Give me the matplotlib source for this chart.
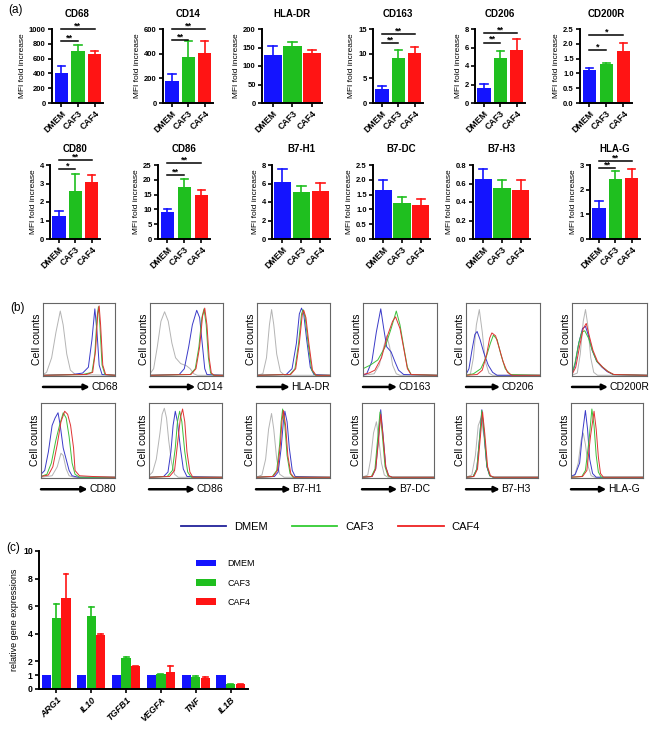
import numpy as np
import matplotlib
matplotlib.use("Agg")
import matplotlib.pyplot as plt
from matplotlib.lines import Line2D

plt.rcParams['font.family'] = ['Liberation Sans', 'DejaVu Sans']

W, H = 650, 734

GROUPS = ["DMEM", "CAF3", "CAF4"]
BAR_COLORS = ["#1414ff", "#1fbf1f", "#ff1414"]
HIST_COLORS = {"iso": "#b4b4b4", "DMEM": "#3a3ac8", "CAF3": "#3cc03c", "CAF4": "#e03232"}
LEGEND_COLORS = ["#22229a", "#33cc33", "#ee2222"]

# ---- panel (a): MFI fold increase ----
ROW1 = ["CD68", "CD14", "HLA-DR", "CD163", "CD206", "CD200R"]
ROW2 = ["CD80", "CD86", "B7-H1", "B7-DC", "B7-H3", "HLA-G"]

MFI_MEAN = {
    "CD68": [405, 700, 660], "CD14": [179, 377, 402], "HLA-DR": [130, 155, 134],
    "CD163": [2.8, 9.2, 10.1], "CD206": [1.61, 4.88, 5.69], "CD200R": [1.12, 1.33, 1.74],
    "CD80": [1.23, 2.6, 3.08], "CD86": [9.0, 17.5, 14.9], "B7-H1": [6.16, 5.04, 5.19],
    "B7-DC": [1.66, 1.22, 1.16], "B7-H3": [0.65, 0.55, 0.53], "HLA-G": [1.27, 2.42, 2.49],
}
MFI_TOP = {
    "CD68": [505, 785, 700], "CD14": [234, 501, 506], "HLA-DR": [155, 164, 142],
    "CD163": [3.4, 10.8, 11.4], "CD206": [2.05, 5.65, 6.9], "CD200R": [1.18, 1.36, 2.02],
    "CD80": [1.52, 3.54, 3.45], "CD86": [10.1, 20.3, 16.4], "B7-H1": [7.53, 5.77, 6.02],
    "B7-DC": [1.99, 1.43, 1.35], "B7-H3": [0.76, 0.64, 0.64], "HLA-G": [1.54, 2.76, 2.85],
}
MFI_YTICKS = {
    "CD68": [0, 200, 400, 600, 800, 1000], "CD14": [0, 200, 400, 600],
    "HLA-DR": [0, 50, 100, 150, 200], "CD163": [0, 5, 10, 15], "CD206": [0, 2, 4, 6, 8],
    "CD200R": [0, 0.5, 1.0, 1.5, 2.0, 2.5], "CD80": [0, 1, 2, 3, 4],
    "CD86": [0, 5, 10, 15, 20, 25], "B7-H1": [0, 2, 4, 6, 8],
    "B7-DC": [0, 0.5, 1.0, 1.5, 2.0, 2.5], "B7-H3": [0, 0.2, 0.4, 0.6, 0.8], "HLA-G": [0, 1, 2, 3],
}
MFI_YFMT = {"CD200R": "{:.1f}", "B7-DC": "{:.1f}", "B7-H3": "{:.1f}"}
# (compared group index, line height, stars)
MFI_SIG = {
    "CD68": [(1, 840, "**"), (2, 1000, "**")], "CD14": [(1, 509, "**"), (2, 600, "**")],
    "CD163": [(1, 12.1, "**"), (2, 14.0, "**")], "CD206": [(1, 6.53, "**"), (2, 7.56, "**")],
    "CD200R": [(1, 1.78, "*"), (2, 2.3, "*")], "CD80": [(1, 3.76, "*"), (2, 4.26, "**")],
    "CD86": [(1, 21.6, "**"), (2, 25.8, "**")], "HLA-G": [(1, 2.89, "**"), (2, 3.16, "**")],
}

# ---- panel (b): flow histograms, (x %, y %) nodes ----
HIST_CD68 = {
    "iso": [(0, 2), (5, 5), (12, 25), (18, 60), (24, 89), (28, 70), (33, 30), (38, 8), (45, 2), (100, 1)],
    "DMEM": [(0, 1), (40, 2), (55, 4), (63, 12), (68, 50), (72, 92), (75, 60), (78, 15), (82, 2), (100, 1)],
    "CAF3": [(0, 1), (55, 2), (68, 5), (72, 30), (75, 80), (77, 95), (79, 70), (82, 15), (86, 2), (100, 1)],
    "CAF4": [(0, 1), (60, 2), (69, 5), (73, 35), (76, 85), (78, 96), (80, 70), (83, 15), (87, 2), (100, 1)],
}
HIST_CD14 = {
    "iso": [(0, 3), (5, 10), (10, 40), (15, 75), (20, 88), (25, 75), (30, 45), (35, 25), (42, 17), (50, 14), (55, 10), (60, 3), (65, 1), (100, 1)],
    "DMEM": [(0, 1), (40, 2), (47, 10), (53, 40), (58, 70), (64, 90), (68, 80), (72, 40), (75, 10), (78, 2), (100, 1)],
    "CAF3": [(0, 1), (55, 2), (62, 10), (67, 40), (71, 80), (74, 92), (77, 70), (80, 25), (83, 4), (87, 1), (100, 1)],
    "CAF4": [(0, 1), (56, 2), (63, 10), (68, 40), (72, 82), (75, 93), (78, 70), (81, 25), (84, 4), (88, 1), (100, 1)],
}
HIST_HLADR = {
    "iso": [(0, 1), (8, 3), (13, 25), (17, 70), (20, 91), (23, 70), (27, 30), (32, 6), (38, 1), (100, 1)],
    "DMEM": [(0, 1), (40, 2), (48, 10), (54, 45), (58, 85), (61, 93), (64, 85), (68, 50), (73, 12), (78, 2), (100, 1)],
    "CAF3": [(0, 1), (45, 2), (52, 10), (57, 45), (61, 85), (63, 91), (66, 80), (70, 45), (75, 8), (80, 1), (100, 1)],
    "CAF4": [(0, 1), (46, 2), (53, 10), (58, 45), (62, 84), (64, 90), (67, 80), (71, 45), (76, 8), (81, 1), (100, 1)],
}
HIST_CD163 = {
    "iso": [(0, 1), (15, 3), (22, 15), (28, 40), (32, 55), (36, 40), (40, 15), (45, 3), (50, 1), (100, 1)],
    "DMEM": [(0, 1), (5, 3), (12, 20), (18, 60), (24, 92), (28, 65), (32, 40), (38, 33), (43, 20), (48, 8), (55, 2), (100, 1)],
    "CAF3": [(0, 10), (10, 15), (20, 22), (30, 40), (38, 65), (45, 89), (50, 70), (55, 40), (60, 12), (65, 2), (100, 1)],
    "CAF4": [(0, 2), (8, 4), (16, 8), (25, 25), (33, 55), (40, 75), (44, 81), (50, 65), (55, 38), (60, 10), (65, 2), (100, 1)],
}
HIST_CD206 = {
    "iso": [(0, 1), (6, 3), (10, 25), (14, 70), (18, 91), (22, 60), (26, 20), (31, 4), (36, 1), (100, 1)],
    "DMEM": [(0, 2), (4, 10), (8, 35), (12, 57), (15, 61), (19, 50), (24, 32), (30, 15), (36, 5), (42, 1), (100, 1)],
    "CAF3": [(0, 1), (10, 3), (20, 10), (27, 25), (33, 45), (37, 56), (42, 50), (47, 30), (53, 10), (60, 2), (100, 1)],
    "CAF4": [(0, 1), (15, 2), (22, 8), (28, 30), (32, 52), (35, 59), (40, 55), (45, 38), (50, 20), (56, 5), (62, 1), (100, 1)],
}
HIST_CD200R = {
    "iso": [(0, 1), (7, 4), (11, 30), (15, 75), (18, 91), (21, 70), (25, 25), (29, 5), (34, 1), (100, 1)],
    "DMEM": [(0, 3), (4, 15), (9, 45), (14, 65), (18, 68), (22, 55), (27, 35), (33, 20), (40, 12), (47, 6), (55, 2), (100, 1)],
    "CAF3": [(0, 3), (4, 18), (9, 45), (13, 60), (17, 62), (22, 52), (27, 35), (33, 20), (40, 13), (47, 7), (55, 2), (100, 1)],
    "CAF4": [(0, 2), (5, 12), (10, 40), (15, 65), (19, 72), (23, 55), (28, 35), (34, 20), (41, 12), (48, 6), (56, 2), (100, 1)],
}
HIST_CD80 = {
    "iso": [(0, 1), (15, 3), (22, 15), (27, 33), (30, 30), (34, 12), (38, 3), (45, 1), (100, 1)],
    "DMEM": [(0, 5), (5, 10), (10, 35), (15, 70), (19, 80), (23, 87), (26, 70), (30, 40), (34, 25), (38, 10), (42, 3), (50, 1), (100, 1)],
    "CAF3": [(0, 2), (8, 5), (14, 20), (20, 50), (25, 70), (30, 87), (34, 80), (38, 55), (42, 20), (46, 5), (52, 1), (100, 1)],
    "CAF4": [(0, 2), (10, 4), (16, 15), (22, 45), (27, 75), (32, 89), (36, 85), (40, 70), (44, 40), (46, 10), (52, 3), (70, 2), (100, 1)],
}
HIST_CD86 = {
    "iso": [(0, 3), (5, 8), (10, 25), (15, 60), (18, 85), (21, 93), (24, 80), (27, 50), (31, 20), (35, 5), (40, 1), (100, 1)],
    "DMEM": [(0, 1), (20, 2), (26, 8), (30, 35), (33, 70), (36, 89), (39, 75), (43, 40), (47, 12), (52, 2), (100, 1)],
    "CAF3": [(0, 1), (25, 2), (32, 10), (36, 40), (39, 75), (42, 89), (45, 75), (49, 35), (53, 8), (58, 1), (100, 1)],
    "CAF4": [(0, 1), (28, 2), (35, 10), (39, 45), (43, 80), (46, 92), (49, 75), (52, 35), (56, 8), (60, 1), (100, 1)],
}
HIST_B7H1 = {
    "iso": [(0, 1), (8, 4), (13, 25), (17, 65), (21, 86), (24, 65), (28, 25), (32, 5), (38, 1), (100, 1)],
    "DMEM": [(0, 1), (25, 2), (30, 8), (34, 40), (37, 75), (39, 89), (42, 75), (45, 40), (49, 10), (53, 2), (100, 1)],
    "CAF3": [(0, 1), (22, 2), (28, 10), (32, 45), (34, 75), (36, 92), (39, 70), (42, 30), (46, 6), (50, 1), (100, 1)],
    "CAF4": [(0, 1), (23, 2), (29, 10), (33, 45), (35, 75), (37, 90), (40, 70), (43, 30), (47, 6), (51, 1), (100, 1)],
}
HIST_B7DC = {
    "iso": [(0, 1), (8, 4), (12, 25), (16, 60), (20, 75), (23, 55), (27, 20), (31, 4), (36, 1), (100, 1)],
    "DMEM": [(0, 1), (14, 2), (19, 12), (23, 55), (26, 91), (29, 60), (33, 15), (37, 3), (42, 1), (100, 1)],
    "CAF3": [(0, 1), (13, 2), (18, 12), (22, 55), (25, 88), (28, 60), (32, 15), (36, 3), (41, 1), (100, 1)],
    "CAF4": [(0, 1), (14, 2), (19, 12), (23, 50), (26, 85), (29, 58), (33, 15), (37, 3), (42, 1), (100, 1)],
}
HIST_B7H3 = {
    "iso": [(0, 1), (8, 4), (13, 30), (17, 70), (21, 80), (25, 55), (29, 15), (33, 3), (38, 1), (100, 1)],
    "DMEM": [(0, 1), (10, 2), (15, 12), (19, 55), (22, 91), (25, 60), (29, 15), (33, 3), (38, 1), (100, 1)],
    "CAF3": [(0, 1), (10, 2), (15, 12), (19, 55), (22, 90), (25, 62), (29, 16), (33, 3), (38, 1), (100, 1)],
    "CAF4": [(0, 1), (11, 2), (16, 12), (20, 55), (23, 88), (26, 60), (30, 15), (34, 3), (39, 1), (100, 1)],
}
HIST_HLAG = {
    "iso": [(0, 1), (5, 3), (10, 20), (14, 50), (17, 60), (20, 45), (24, 15), (28, 3), (33, 1), (100, 1)],
    "DMEM": [(0, 2), (6, 5), (12, 20), (16, 60), (20, 90), (23, 65), (26, 25), (30, 6), (35, 1), (100, 1)],
    "CAF3": [(0, 1), (15, 2), (20, 10), (25, 50), (29, 92), (32, 70), (35, 30), (38, 8), (42, 1), (100, 1)],
    "CAF4": [(0, 1), (16, 2), (22, 10), (27, 55), (32, 89), (35, 65), (38, 28), (41, 6), (45, 1), (100, 1)],
}
HIST_ROW1 = [("CD68", HIST_CD68), ("CD14", HIST_CD14), ("HLA-DR", HIST_HLADR),
             ("CD163", HIST_CD163), ("CD206", HIST_CD206), ("CD200R", HIST_CD200R)]
HIST_ROW2 = [("CD80", HIST_CD80), ("CD86", HIST_CD86), ("B7-H1", HIST_B7H1),
             ("B7-DC", HIST_B7DC), ("B7-H3", HIST_B7H3), ("HLA-G", HIST_HLAG)]

# ---- panel (c): relative gene expression ----
GENES = ["ARG1", "IL10", "TGFB1", "VEGFA", "TNF", "IL1B"]
GENE_DMEM = [1, 1, 1, 1, 1, 1]
GENE_CAF3 = [5.17, 5.29, 2.27, 1.09, 0.85, 0.34]
GENE_CAF4 = [6.57, 3.89, 1.67, 1.21, 0.82, 0.36]
GENE_CAF3_TOP = [6.14, 5.96, 2.30, 1.10, 0.97, 0.37]
GENE_CAF4_TOP = [8.30, 3.98, 1.70, 1.67, 0.85, 0.38]


def px_axes(fig, x0, x1, y0, y1):
    """Axes from pixel box (top-left origin)."""
    return fig.add_axes([x0 / W, 1 - y1 / H, (x1 - x0) / W, (y1 - y0) / H])


def style_bar_axes(ax):
    for s in ("top", "right"):
        ax.spines[s].set_visible(False)
    for s in ("left", "bottom"):
        ax.spines[s].set_linewidth(1.4)
    ax.tick_params(width=1.2, length=3, pad=1.5)


def draw_mfi(ax, name, title_pad):
    x = np.arange(3)
    means, tops = MFI_MEAN[name], MFI_TOP[name]
    wide = ax.get_position().width * W > 54
    bw = 0.92 if wide else 0.8
    for xi, m, t, c in zip(x, means, tops, BAR_COLORS):
        ax.plot([xi, xi], [m, t], color=c, lw=1.2, zorder=1)
        ax.plot([xi - 0.22, xi + 0.22], [t, t], color=c, lw=1.2, zorder=1)
    ax.bar(x, means, width=bw, color=BAR_COLORS, zorder=2)
    ticks = MFI_YTICKS[name]
    fmt = MFI_YFMT.get(name, "{:g}")
    ax.set_ylim(0, ticks[-1])
    ax.set_yticks(ticks)
    ax.set_yticklabels([fmt.format(t) for t in ticks], fontsize=5.5, fontweight="bold")
    ax.set_xlim(-0.55, 2.5)
    ax.set_xticks(x)
    ax.set_xticklabels(GROUPS, rotation=45, ha="right", rotation_mode="anchor",
                       fontsize=6.3, fontweight="bold")
    ax.set_ylabel("MFI fold increase", fontsize=6, labelpad=2)
    ax.set_title(name, fontsize=7, fontweight="bold", pad=title_pad)
    style_bar_axes(ax)
    for j, yl, stars in MFI_SIG.get(name, []):
        ax.plot([0, j], [yl, yl], color="k", lw=1.1, clip_on=False)
        ax.annotate(stars, (j / 2, yl), xytext=(0, 0.4), textcoords="offset points",
                    ha="center", va="baseline", fontsize=6.5, fontweight="bold",
                    annotation_clip=False)


def draw_hist(ax, label, curves, arrow_len):
    for key in ("iso", "DMEM", "CAF3", "CAF4"):
        xs, ys = zip(*curves[key])
        ax.plot(xs, ys, color=HIST_COLORS[key], lw=0.7)
    ax.set_xlim(0, 100)
    ax.set_ylim(0, 100)
    ax.set_xticks([])
    ax.set_yticks([])
    for s in ax.spines.values():
        s.set_color("#666666")
        s.set_linewidth(0.8)
    ax.set_ylabel("Cell counts", fontsize=7.5, labelpad=1)
    ax.annotate("", xy=(arrow_len, -0.15), xytext=(0, -0.15), xycoords="axes fraction",
                arrowprops=dict(arrowstyle="-|>", lw=1.8, color="k", mutation_scale=8,
                                shrinkA=0, shrinkB=0), annotation_clip=False)
    ax.text(arrow_len + 0.02, -0.15, label, transform=ax.transAxes, fontsize=7.5,
            va="center", ha="left", clip_on=False)


fig = plt.figure(figsize=(6.5, 7.34), dpi=100)

# (a)
row1_x = [(52, 103), (163, 213), (262, 322), (373, 423), (475, 525), (580, 632)]
row2_x = [(50, 100), (158, 210), (272, 330), (373, 430), (473, 530), (590, 640)]
for name, (x0, x1) in zip(ROW1, row1_x):
    draw_mfi(px_axes(fig, x0, x1, 29, 103), name, 8.5)
for name, (x0, x1) in zip(ROW2, row2_x):
    draw_mfi(px_axes(fig, x0, x1, 165, 239), name, 9.5)

# (b)
hist1_x = [(43, 115), (150, 223), (257, 330), (363, 437), (466, 540), (572, 647)]
hist2_x = [(41, 115), (149, 222), (256, 330), (362, 434), (466, 538), (571, 643)]
arrow1 = [0.65, 0.62, 0.45, 0.46, 0.46, 0.48]
arrow2 = [0.63, 0.63, 0.47, 0.49, 0.47, 0.49]
for (label, curves), (x0, x1), al in zip(HIST_ROW1, hist1_x, arrow1):
    draw_hist(px_axes(fig, x0, x1, 303, 376), label, curves, al)
for (label, curves), (x0, x1), al in zip(HIST_ROW2, hist2_x, arrow2):
    draw_hist(px_axes(fig, x0, x1, 403, 478), label, curves, al)

handles = [Line2D([], [], color=c, lw=1.3) for c in LEGEND_COLORS]
fig.legend(handles, GROUPS, loc="center", bbox_to_anchor=(0.508, 1 - 527 / H), ncol=3,
           frameon=False, fontsize=8, handlelength=4.1, columnspacing=2.2, handletextpad=0.7)

# (c)
axc = px_axes(fig, 39, 248, 551, 689)
xg = np.arange(len(GENES))
offsets = [-0.275, 0.0, 0.275]
series = [GENE_DMEM, GENE_CAF3, GENE_CAF4]
series_top = [GENE_DMEM, GENE_CAF3_TOP, GENE_CAF4_TOP]
for k in range(3):
    xs = xg + offsets[k]
    for xi, m, t in zip(xs, series[k], series_top[k]):
        if t > m:
            axc.plot([xi, xi], [m, t], color=BAR_COLORS[k], lw=1.2, zorder=1)
            axc.plot([xi - 0.07, xi + 0.07], [t, t], color=BAR_COLORS[k], lw=1.2, zorder=1)
    axc.bar(xs, series[k], width=0.265, color=BAR_COLORS[k], label=GROUPS[k], zorder=2)
axc.set_xlim(-0.5, 5.5)
axc.set_ylim(0, 10)
yt = [0, 1, 2, 4, 6, 8, 10]
axc.set_yticks(yt)
axc.set_yticklabels([str(v) for v in yt], fontsize=6.3, fontweight="bold")
axc.set_xticks(xg)
axc.set_xticklabels(GENES, rotation=45, ha="right", rotation_mode="anchor",
                    fontsize=6.5, fontweight="bold", fontstyle="italic")
axc.set_ylabel("relative gene expressions", fontsize=6.5, labelpad=3)
style_bar_axes(axc)
axc.legend(loc="upper left", bbox_to_anchor=(0.71, 1.0), frameon=False, fontsize=6.5,
           handlelength=2.3, handleheight=0.75, labelspacing=1.15, handletextpad=1.2)

fig.text(8 / W, 1 - 10 / H, "(a)", fontsize=8.5, va="center")
fig.text(10 / W, 1 - 308 / H, "(b)", fontsize=8.5, va="center")
fig.text(6 / W, 1 - 548 / H, "(c)", fontsize=8.5, va="center")

fig.savefig("out.png", dpi=100)
